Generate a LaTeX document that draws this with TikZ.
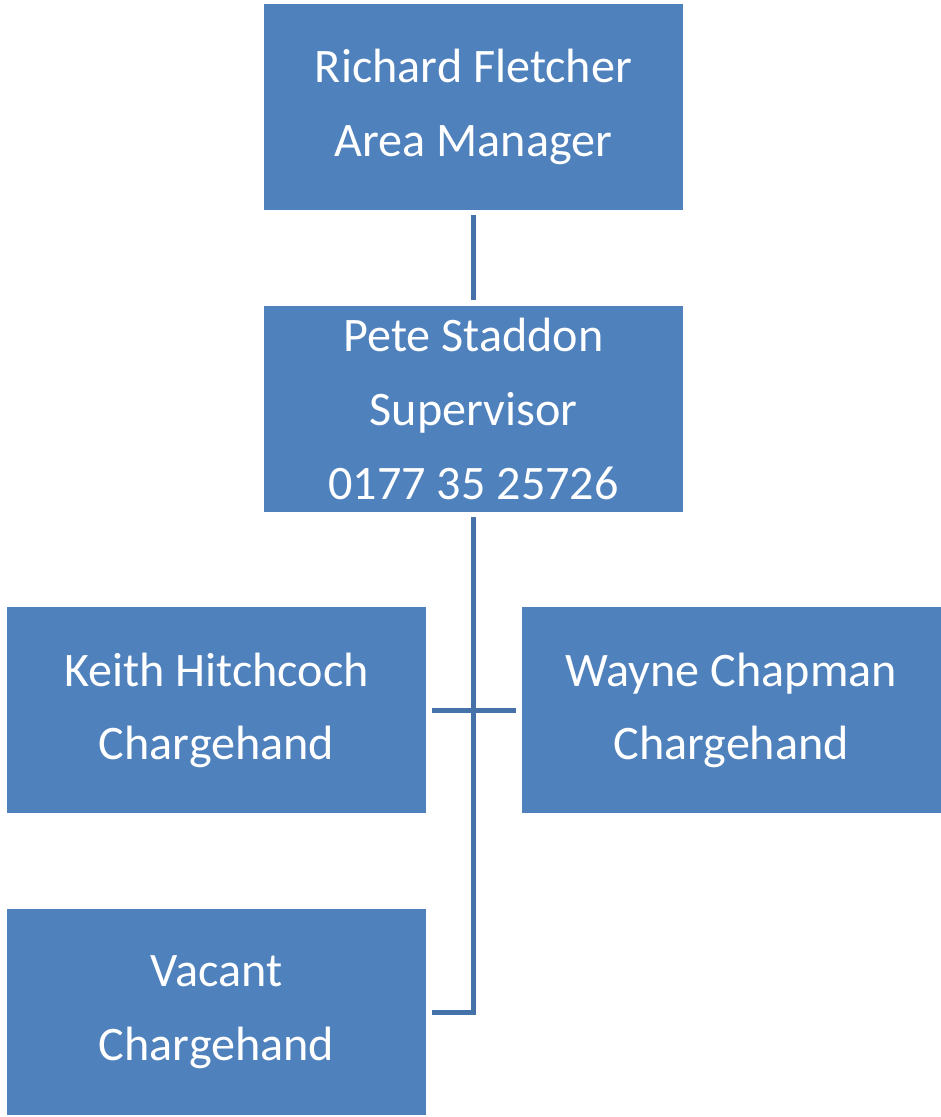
\documentclass[tikz,border=0pt]{standalone}
\usepackage{fontspec}
\setmainfont{Carlito}
\usetikzlibrary{positioning}
\definecolor{boxblue}{RGB}{79,129,189}
\definecolor{linkblue}{RGB}{69,114,168}
\newcommand{\gapdist}{1.9cm}
\tikzset{
  person/.style={rectangle, fill=boxblue, text=white, align=center,
    minimum width=8.38cm, minimum height=4.12cm, inner sep=0pt,
    font=\fontsize{27.4}{42}\selectfont},
  link/.style={draw=linkblue, line width=0.1cm, line join=miter}
}

\begin{document}
\begin{tikzpicture}
    \useasboundingbox (0,0) rectangle (18.82,-22.34);
    \node[person] (manager) at (9.47,-2.14) {Richard Fletcher\\Area Manager};
    \node[person, below=\gapdist of manager] (super) {Pete Staddon\\Supervisor\\0177 35 25726};
    \node[person, below=\gapdist of super, xshift=-5.14cm] (keith) {Keith Hitchcoch\\Chargehand};
    \node[person, right=\gapdist of keith] (wayne) {Wayne Chapman\\Chargehand};
    \node[person, below=\gapdist of keith] (vacant) {Vacant\\Chargehand};
    % connectors
    \draw[link, shorten <=0.1cm, shorten >=0.1cm] (manager) -- (super);
    \draw[link, shorten <=0.1cm, shorten >=0.12cm] (super.south) |- (vacant.east);
    \draw[link, shorten <=0.12cm, shorten >=0.1cm] (keith) -- (wayne);
\end{tikzpicture}
\end{document}
